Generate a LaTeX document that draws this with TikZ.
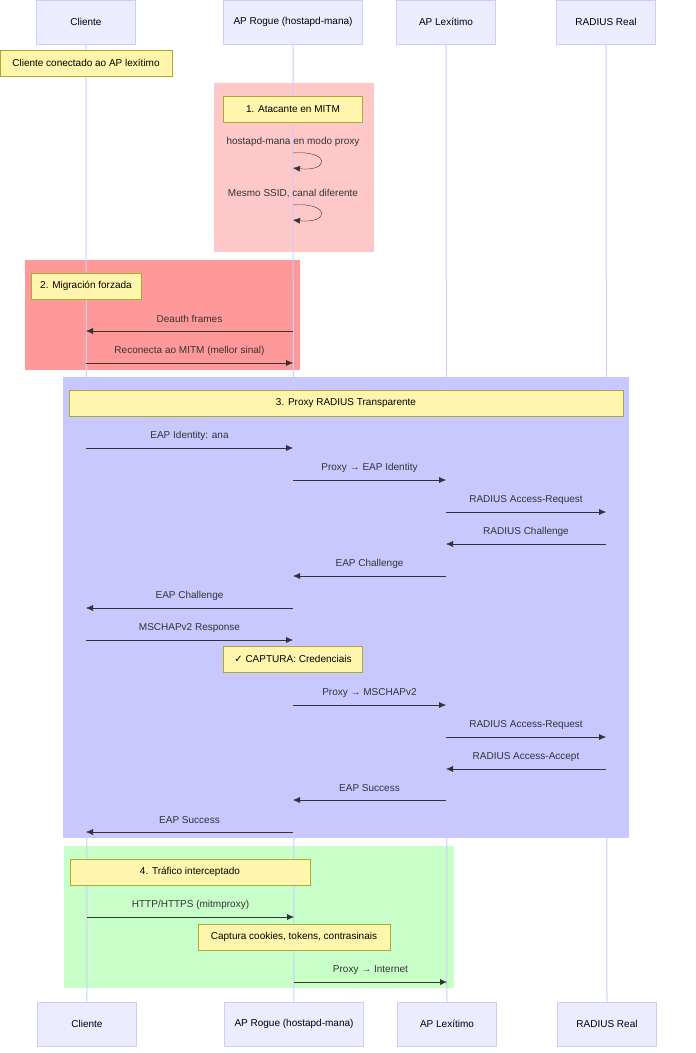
\documentclass[tikz,border=0pt]{standalone}
\usepackage{fontspec}
\setmainfont{Liberation Sans}
\newfontfamily\symfont{DejaVu Sans}
\usetikzlibrary{arrows.meta}
\definecolor{actorfill}{HTML}{ECECFF}
\definecolor{actorline}{HTML}{CCCCFF}
\definecolor{notefill}{HTML}{FFF5AD}
\definecolor{noteline}{HTML}{AAAA33}
\definecolor{ink}{HTML}{333333}
\tikzset{
  actor/.style={draw=actorline, fill=actorfill, minimum height=44pt, font=\fontsize{10}{12}\selectfont, text=black},
  note/.style={draw=noteline, fill=notefill, minimum height=26pt, font=\fontsize{10}{12}\selectfont, text=black},
  msg/.style={draw=ink, -{Latex[length=7pt,width=6pt]}},
  lbl/.style={font=\fontsize{10}{12}\selectfont, text=ink}
}
\newcommand{\msg}[4]{%
  \draw[msg] (#1 |- 0,#3) -- (#2 |- 0,#3);
  \node[lbl] at ($(#1 |- 0,#3)!0.5!(#2 |- 0,#3)+(0,-12)$) {#4};}
\usetikzlibrary{calc}
\begin{document}
\begin{tikzpicture}[x=1pt, y=-1pt]
            \useasboundingbox (0,0) rectangle (696,1053);
            % Boxes
            \fill[fill={rgb,255:red,255;green,200;blue,200}] (214,83) rectangle (374,252);
            \fill[fill={rgb,255:red,255;green,153;blue,153}] (25,260) rectangle (300,370);
            \fill[fill={rgb,255:red,200;green,200;blue,255}] (63,377) rectangle (629,838);
            \fill[fill={rgb,255:red,200;green,255;blue,200}] (64,846) rectangle (454,988);

            % Actors
            \node[actor, minimum width=99pt] (c) at (86,22) {Cliente};
            \node[actor, minimum width=139pt] (r) at (293,22) {AP Rogue (hostapd-mana)};
            \node[actor, minimum width=99pt] (l) at (446,22) {AP Lexítimo};
            \node[actor, minimum width=99pt] (s) at (606,22) {RADIUS Real};
            \node[actor, minimum width=99pt] (c2) at (87,1024) {Cliente};
            \node[actor, minimum width=139pt] (r2) at (294,1024) {AP Rogue (hostapd-mana)};
            \node[actor, minimum width=99pt] (l2) at (447,1024) {AP Lexítimo};
            \node[actor, minimum width=99pt] (s2) at (607,1024) {RADIUS Real};

            % Lifelines
            \foreach \a/\b in {c/c2, r/r2, l/l2, s/s2}
                \draw[actorline, line width=1pt] (\a.south) -- (\b.north);

            % Notes
            \node[note, minimum width=172pt] (n0) at (86,63) {Cliente conectado ao AP lexítimo};
            \node[note, minimum width=139pt] (n1) at (293,109) {1. Atacante en MITM};
            \node[note, minimum width=110pt] (n2) at (86,286) {2. Migración forzada};
            \node[note, minimum width=554pt] (n3) at (346,403) {3. Proxy RADIUS Transparente};
            \node[note, minimum width=139pt] (n4) at (293,659) {{\symfont ✓} CAPTURA: Credenciais};
            \node[note, minimum width=240pt] (n5) at (190,872) {4. Tráfico interceptado};
            \node[note, minimum width=192pt] (n6) at (294,937) {Captura cookies, tokens, contrasinais};

            % Self messages
            \node[lbl] at (293,142) {hostapd-mana en modo proxy};
            \draw[msg] (r |- 0,153) .. controls (330,150) and (330,172) .. (r |- 0,168);
            \node[lbl] at (293,194) {Mesmo SSID, canal diferente};
            \draw[msg] (r |- 0,205) .. controls (330,202) and (330,224) .. (r |- 0,220);

            % Messages
            \msg{r}{c}{331}{Deauth frames}
            \msg{c}{r}{363}{Reconecta ao MITM (mellor sinal)}
            \msg{c}{r}{448}{EAP Identity: ana}
            \msg{r}{l}{480}{Proxy → EAP Identity}
            \msg{l}{s}{512}{RADIUS Access-Request}
            \msg{s}{l}{544}{RADIUS Challenge}
            \msg{l}{r}{576}{EAP Challenge}
            \msg{r}{c}{608}{EAP Challenge}
            \msg{c}{r}{640}{MSCHAPv2 Response}
            \msg{r}{l}{705}{Proxy → MSCHAPv2}
            \msg{l}{s}{737}{RADIUS Access-Request}
            \msg{s}{l}{769}{RADIUS Access-Accept}
            \msg{l}{r}{800}{EAP Success}
            \msg{r}{c}{832}{EAP Success}
            \msg{c2}{r2}{917}{HTTP/HTTPS (mitmproxy)}
            \msg{r2}{l2}{982}{Proxy → Internet}
\end{tikzpicture}
\end{document}
